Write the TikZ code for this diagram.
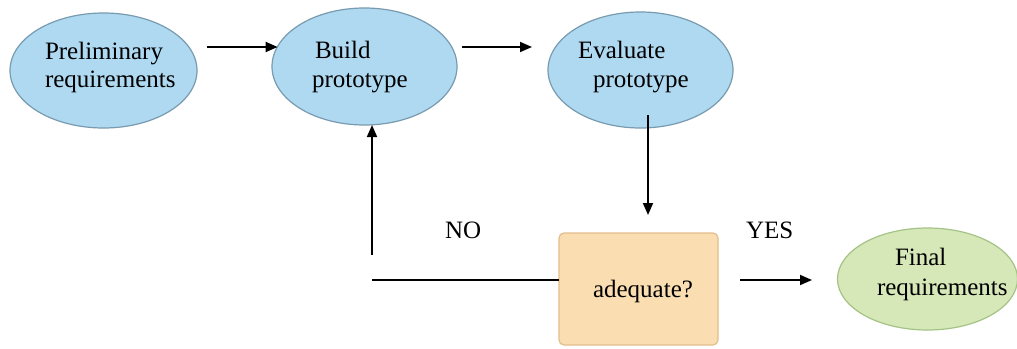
\documentclass[tikz,border=0pt]{standalone}
\usepackage{fontspec}
\setmainfont{Liberation Serif}
\usetikzlibrary{arrows.meta,shapes.geometric}
\definecolor{bubblefill}{RGB}{174,217,241}
\definecolor{bubbleedge}{RGB}{120,155,175}
\definecolor{endfill}{RGB}{214,232,184}
\definecolor{endedge}{RGB}{165,195,135}
\definecolor{boxfill}{RGB}{250,221,176}
\definecolor{boxedge}{RGB}{228,190,140}
\begin{document}
\begin{tikzpicture}[x=1pt,y=-1pt,
  bubble/.style={ellipse, draw=bubbleedge, fill=bubblefill, line width=1.2pt, inner sep=0pt, outer sep=0pt},
  endbubble/.style={bubble, draw=endedge, fill=endfill},
  checkbox/.style={rectangle, rounded corners=5pt, draw=boxedge, fill=boxfill, line width=1.2pt, inner sep=0pt, outer sep=0pt},
  lbl/.style={anchor=base west, inner sep=0pt, outer sep=0pt, font=\fontsize{25}{29}\selectfont},
  arr/.style={line width=1.8pt, -{Triangle[length=12pt,width=10pt]}},
  plain/.style={line width=1.8pt}]
\useasboundingbox[fill=white] (0,0) rectangle (1017,348);

% process steps
\node[bubble, minimum width=187pt, minimum height=115pt] (e1) at (103.5,70.5) {};
\node[bubble, minimum width=185pt, minimum height=117pt] (e2) at (364.5,66.5) {};
\node[bubble, minimum width=185pt, minimum height=116pt] (e3) at (640.5,70) {};
\node[endbubble, minimum width=180pt, minimum height=102pt] (e4) at (927.5,279) {};
\node[checkbox, minimum width=159pt, minimum height=112pt] (chk) at (638.5,289) {};

% labels
\node[lbl] (t1a) at (45,59) {Preliminary};
\node[lbl] (t1b) at (45,87) {requirements};
\node[lbl] (t2a) at (315,58) {Build};
\node[lbl] (t2b) at (312,87) {prototype};
\node[lbl] (t3a) at (578,58) {Evaluate};
\node[lbl] (t3b) at (593,87) {prototype};
\node[lbl] (t4a) at (895,265) {Final};
\node[lbl] (t4b) at (877,295) {requirements};
\node[lbl] (t5) at (593,297) {adequate?};
\node[lbl] (no) at (445,238) {NO};
\node[lbl] (yes) at (746,238) {YES};

% connectors
\coordinate (p1) at (207,47);
\draw[arr] (p1) -- (p1 -| e2.167);
\coordinate (p2) at (462,47);
\coordinate (p3) at (532,47);
\draw[arr] (p2) -- (p3);
\coordinate (p4) at (648,115);
\draw[arr] (p4) -- ([yshift=18pt]chk.north -| p4);
\coordinate (p5) at (372,255);
\draw[arr] (p5) -- (p5 |- e2.south);
\coordinate (p6) at (372,280);
\draw[plain] (p6) -- (p6 -| chk.west);
\coordinate (p7) at (740,280);
\coordinate (p8) at (812,280);
\draw[arr] (p7) -- (p8);
\end{tikzpicture}
\end{document}
